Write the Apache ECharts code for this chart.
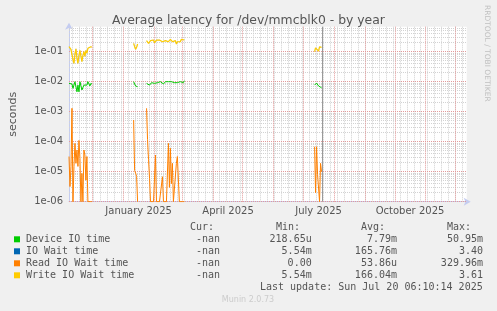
<!DOCTYPE html>
<html>
<head>
<meta charset="utf-8">
<script src="https://cdn.jsdelivr.net/npm/echarts@6/dist/echarts.min.js"></script>
<style>
  html, body { margin: 0; padding: 0; background: #f0f0f0; }
  #chart { width: 497px; height: 311px; }
</style>
</head>
<body>
<div id="chart"></div>
<script>
// ---------------- data ----------------
const titleText = 'Average latency for /dev/mmcblk0 - by year';
const seriesNames = ['Device IO time', 'IO Wait time', 'Read IO Wait time', 'Write IO Wait time'];
const seriesColors = ['#00cc00', '#0066b3', '#ff8000', '#ffcc00'];

// first day of each contiguous run of daily samples (gaps = no data)
const segmentStartDates = ['2024-11-07', '2025-01-11', '2025-01-24', '2025-07-12'];

const deviceIO = [
  [8.8e-3, 9.2e-3, 7.7e-3, 8.4e-3, 6.0e-3, 5.3e-3, 1.0e-2, 1.14e-2, 4.6e-3, 7.7e-3, 4.6e-3, 1.0e-2,
   8.8e-3, 5.3e-3, 6.0e-3, 7.7e-3, 6.8e-3, 8.8e-3, 7.7e-3, 1.0e-2, 8.8e-3, 7.2e-3, 8.8e-3, 8.4e-3],
  [1.0e-2, 8.4e-3, 7.2e-3, 6.5e-3, 6.8e-3],
  [8.8e-3, 8.4e-3, 7.7e-3, 7.7e-3, 8.8e-3, 9.3e-3, 9.3e-3, 1.0e-2, 8.8e-3, 9.3e-3, 8.4e-3, 9.3e-3, 8.8e-3,
   1.0e-2, 1.0e-2, 9.3e-3, 8.8e-3, 8.4e-3, 9.3e-3, 1.0e-2, 1.0e-2, 1.08e-2, 1.0e-2, 1.0e-2, 9.3e-3, 1.0e-2,
   1.08e-2, 1.0e-2, 9.3e-3, 9.3e-3, 8.4e-3, 9.3e-3, 1.0e-2, 8.8e-3, 1.0e-2, 1.08e-2, 1.14e-2, 9.3e-3, 1.08e-2],
  [7.7e-3, 8.8e-3, 9.0e-3, 8.4e-3, 7.2e-3, 6.8e-3, 6.3e-3, 6.3e-3]
];
// hidden under the write series (almost identical values)
const ioWait = [
  [0.147, 0.135, 0.12, 0.08, 0.055, 0.041, 0.085, 0.125, 0.06, 0.041, 0.075, 0.11,
   0.07, 0.047, 0.075, 0.1, 0.07, 0.11, 0.09, 0.13, 0.115, 0.14, 0.147, 0.14],
  [0.19, 0.147, 0.12, 0.14, 0.18],
  [0.233, 0.215, 0.19, 0.2, 0.233, 0.245, 0.215, 0.245, 0.2, 0.233, 0.245, 0.215, 0.233,
   0.245, 0.227, 0.258, 0.215, 0.245, 0.2, 0.233, 0.258, 0.245, 0.215, 0.233, 0.258, 0.245,
   0.215, 0.2, 0.245, 0.233, 0.18, 0.215, 0.245, 0.233, 0.215, 0.258, 0.278, 0.245, 0.245],
  [0.1, 0.135, 0.155, 0.12, 0.105, 0.145, 0.15, 0.14]
];
const readIO = [
  [3.2e-5, 3.2e-6, 1.5e-5, 1.3e-3, 0, 1.5e-5, 8.8e-5, 1.9e-5, 5.3e-5, 1.5e-5, 1.1e-4, 2.8e-5,
   0, 8.8e-6, 0, 5.3e-5, 3.6e-5, 5.2e-6, 3.2e-5, 0, 0, 0, 0, 0],
  [5.3e-4, 1.1e-5, 9e-6, 7e-6, 0],
  [1.3e-3, 1.2e-4, 2.5e-5, 6e-6, 0, 0, 0, 0, 0, 3.6e-5, 0, 0, 0,
   0, 0, 0, 6.8e-6, 0, 0, 0, 0, 0, 8.8e-5, 3e-6, 6e-5, 4e-6,
   1.9e-5, 0, 0, 0, 1.9e-5, 3.2e-5, 2.8e-5, 0, 0, 0, 0, 0, 0],
  [6.8e-5, 2e-6, 6.8e-5, 8e-6, 8e-6, 0, 1.9e-5, 1e-5]
];
const writeIO = [
  [0.147, 0.135, 0.12, 0.08, 0.055, 0.041, 0.085, 0.125, 0.06, 0.041, 0.075, 0.11,
   0.07, 0.047, 0.075, 0.1, 0.07, 0.11, 0.09, 0.13, 0.115, 0.14, 0.147, 0.14],
  [0.19, 0.147, 0.12, 0.14, 0.18],
  [0.233, 0.215, 0.19, 0.2, 0.233, 0.245, 0.215, 0.245, 0.2, 0.233, 0.245, 0.215, 0.233,
   0.245, 0.227, 0.258, 0.215, 0.245, 0.2, 0.233, 0.258, 0.245, 0.215, 0.233, 0.258, 0.245,
   0.215, 0.2, 0.245, 0.233, 0.18, 0.215, 0.245, 0.233, 0.215, 0.258, 0.278, 0.245, 0.245],
  [0.1, 0.135, 0.155, 0.12, 0.105, 0.145, 0.15, 0.14]
];

// legend statistics
const curValues = ['-nan', '-nan', '-nan', '-nan'];
const minValues = ['218.65u', '5.54m', '0.00', '5.54m'];
const avgValues = ['7.79m', '165.76m', '53.86u', '166.04m'];
const maxValues = ['50.95m', '3.40', '329.96m', '3.61'];
const lastUpdateText = 'Last update: Sun Jul 20 06:10:14 2025';
const footerText = 'Munin 2.0.73';
const sideText = 'RRDTOOL / TOBI OETIKER';

// axes
const xRangeStart = '2024-11-07';
const xRangeDays = 400;
const nowTime = '2025-07-20T06:10:14Z';
const xTickDates = ['2025-01-16', '2025-04-16', '2025-07-16', '2025-10-16'];
const xTickLabels = ['January 2025', 'April 2025', 'July 2025', 'October 2025'];
const yTickExponents = [-6, -5, -4, -3, -2, -1];
const yTickLabels = ['1e-06', '1e-05', '1e-04', '1e-03', '1e-02', '1e-01'];
const yMin = 1e-6;
const yMax = Math.pow(10, -1 / 6);

// ---------------- build ----------------
const DAY = 86400000;
const t0 = Date.parse(xRangeStart + 'T00:00:00Z');
const t1 = t0 + xRangeDays * DAY;
const tNow = Date.parse(nowTime);
const xTickTimes = xTickDates.map(d => Date.parse(d + 'T00:00:00Z'));

function buildData(segments, clampLow) {
  const out = [];
  segments.forEach((seg, i) => {
    const s = Date.parse(segmentStartDates[i] + 'T00:00:00Z');
    seg.forEach((v, j) => {
      let y = v;
      if (clampLow && y < yMin) y = yMin;
      out.push([s + j * DAY, y]);
    });
    out.push([s + seg.length * DAY, null]);
  });
  return out;
}

// grid line positions (Mondays, month starts, log minor/major)
const weekLines = [];
for (let t = t0; t <= t1; t += DAY) {
  if (new Date(t).getUTCDay() === 1) weekLines.push(t);
}
const monthLines = [];
for (let t = t0; t <= t1; t += DAY) {
  if (new Date(t).getUTCDate() === 1) monthLines.push(t);
}
const minorY = [], majorY = [];
yTickExponents.forEach(e => {
  majorY.push(Math.pow(10, e));
  for (let k = 2; k <= 9; k++) {
    const v = k * Math.pow(10, e);
    if (v < yMax) minorY.push(v);
  }
});

function vLines(values, color, dash, z) {
  return {
    type: 'custom', silent: true, z: z, clip: false,
    data: values.map(v => [v, 1e-3]),
    renderItem: (params, api) => {
      const cs = params.coordSys;
      const x = Math.floor(api.coord([api.value(0), 1e-3])[0]) + 0.5;
      return { type: 'line', shape: { x1: x, y1: cs.y, x2: x, y2: cs.y + cs.height },
        style: { stroke: color, lineWidth: 1, lineDash: dash } };
    }
  };
}
function hLines(values, color, z) {
  return {
    type: 'custom', silent: true, z: z, clip: false,
    data: values.map(v => [t0 + DAY, v]),
    renderItem: (params, api) => {
      const cs = params.coordSys;
      const y = Math.floor(api.coord([api.value(0), api.value(1)])[1]) + 0.5;
      return { type: 'line', shape: { x1: cs.x, y1: y, x2: cs.x + cs.width, y2: y },
        style: { stroke: color, lineWidth: 1, lineDash: [1, 1] } };
    }
  };
}

const MINOR = '#d2d2d2';
const MAJOR = '#e39a9a';

const lineSeries = [deviceIO, ioWait, readIO, writeIO].map((segs, i) => ({
  name: seriesNames[i],
  type: 'line',
  data: buildData(segs, i === 2),
  showSymbol: false,
  symbol: 'none',
  connectNulls: false,
  clip: true,
  z: 10 + i,
  lineStyle: { color: seriesColors[i], width: i === 1 ? 0.5 : (i === 3 ? 1.2 : 1), opacity: i === 1 ? 0.4 : 1 },
  itemStyle: { color: seriesColors[i] },
  animation: false
}));

// legend graphics
const mono = '"DejaVu Sans Mono", "Liberation Mono", monospace';
const TXT = '#555555';
const rowY = [239.3, 251.3, 263.3, 275.3];
const graphics = [];
function txt(x, y, s, align, opts) {
  graphics.push(Object.assign({
    type: 'text', x: x, y: y, silent: true,
    style: { text: s, fill: TXT, font: '10px ' + mono, textAlign: align, textVerticalAlign: 'middle' }
  }, opts || {}));
}
txt(190, 227.3, 'Cur:', 'left');
txt(276, 227.3, 'Min:', 'left');
txt(361, 227.3, 'Avg:', 'left');
txt(447, 227.3, 'Max:', 'left');
seriesNames.forEach((n, i) => {
  graphics.push({ type: 'rect', silent: true, shape: { x: 14, y: rowY[i] - 3, width: 6, height: 6 },
    style: { fill: seriesColors[i] } });
  txt(26, rowY[i], n, 'left');
  txt(220, rowY[i], curValues[i], 'right');
  txt(311.7, rowY[i], minValues[i], 'right');
  txt(397, rowY[i], avgValues[i], 'right');
  txt(483, rowY[i], maxValues[i], 'right');
});
txt(482.7, 287.7, lastUpdateText, 'right');
graphics.push({ type: 'text', x: 248, y: 300.3, silent: true,
  style: { text: footerText, fill: '#cccccc', font: '8px "DejaVu Sans", sans-serif', textAlign: 'center', textVerticalAlign: 'middle' } });
graphics.push({ type: 'text', x: 487, y: 5, rotation: -Math.PI / 2, silent: true,
  style: { text: sideText, fill: '#c0c0c0', font: '7.5px "DejaVu Sans", sans-serif', textAlign: 'left', textVerticalAlign: 'middle' } });

const chart = echarts.init(document.getElementById('chart'), null, { renderer: 'canvas' });
chart.setOption({
  animation: false,
  backgroundColor: '#f0f0f0',
  title: {
    text: titleText, left: 'center', top: 10,
    textStyle: { fontFamily: '"DejaVu Sans", sans-serif', fontSize: 12.4, fontWeight: 'normal', color: '#555555' }
  },
  grid: { left: 66.7, right: 30.3, top: 26.7, height: 175, show: true, backgroundColor: '#ffffff', borderWidth: 0 },
  xAxis: {
    type: 'value', min: t0, max: t1,
    axisLine: { show: true, lineStyle: { color: '#c4ccf0', width: 1 }, symbol: ['none', 'arrow'], symbolSize: [6, 7], symbolOffset: [0, 4] },
    axisTick: { show: false },
    splitLine: { show: false },
    axisLabel: {
      customValues: xTickTimes,
      margin: 5,
      color: '#555555', fontSize: 10, fontFamily: '"DejaVu Sans", sans-serif',
      formatter: v => { const i = xTickTimes.indexOf(v); return i >= 0 ? xTickLabels[i] : ''; }
    }
  },
  yAxis: {
    type: 'log', logBase: 10, min: yMin, max: yMax,
    name: 'seconds', nameLocation: 'middle', nameGap: 50,
    nameTextStyle: { color: '#555555', fontSize: 11, fontFamily: '"DejaVu Sans", sans-serif' },
    axisLine: { show: true, lineStyle: { color: '#c4ccf0', width: 1 }, symbol: ['none', 'arrow'], symbolSize: [6, 7], symbolOffset: [0, 4] },
    axisTick: { show: false },
    splitLine: { show: false },
    axisLabel: {
      margin: 6,
      color: '#555555', fontSize: 10, fontFamily: '"DejaVu Sans", sans-serif',
      formatter: v => {
        const e = Math.log10(v); const r = Math.round(e);
        if (Math.abs(e - r) > 1e-6) return '';
        const i = yTickExponents.indexOf(r);
        return i >= 0 ? yTickLabels[i] : '';
      }
    }
  },
  series: [
    vLines(weekLines, MINOR, [1, 1], 1),
    hLines(minorY, MINOR, 1),
    vLines(monthLines, MAJOR, [1, 1], 2),
    hLines(majorY, MAJOR, 2),
    vLines([tNow], '#999999', null, 3)
  ].concat(lineSeries),
  graphic: graphics
});
</script>
</body>
</html>
